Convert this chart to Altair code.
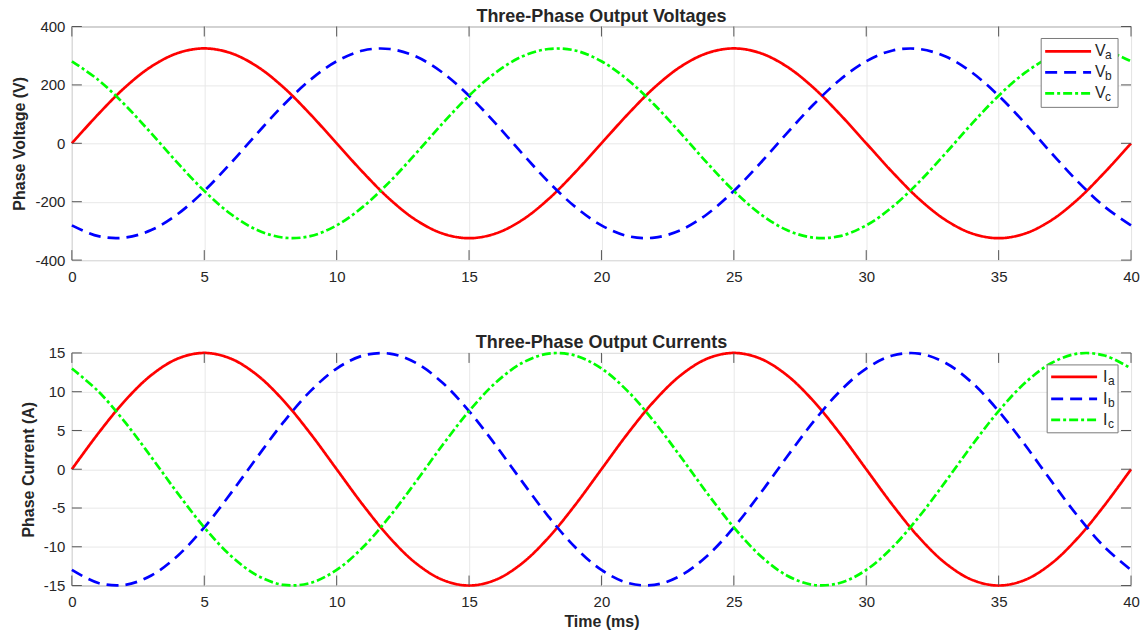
import altair as alt
import pandas as pd

# ---------------- data (1 ms steps) ----------------
time_ms = list(range(41))

va = [0, 100, 191, 263, 309, 325, 309, 263, 191, 100, 0, -100, -191, -263, -309, -325, -309, -263, -191, -100,
      0, 100, 191, 263, 309, 325, 309, 263, 191, 100, 0, -100, -191, -263, -309, -325, -309, -263, -191, -100, 0]
vb = [-281, -318, -323, -297, -242, -163, -68, 34, 132, 217, 281, 318, 323, 297, 242, 163, 68, -34, -132, -217,
      -281, -318, -323, -297, -242, -163, -68, 34, 132, 217, 281, 318, 323, 297, 242, 163, 68, -34, -132, -217, -281]
vc = [281, 217, 132, 34, -68, -163, -242, -297, -323, -318, -281, -217, -132, -34, 68, 163, 242, 297, 323, 318,
      281, 217, 132, 34, -68, -163, -242, -297, -323, -318, -281, -217, -132, -34, 68, 163, 242, 297, 323, 318, 281]

ia = [0, 4.64, 8.82, 12.14, 14.27, 15, 14.27, 12.14, 8.82, 4.64, 0, -4.64, -8.82, -12.14, -14.27, -15, -14.27, -12.14, -8.82, -4.64,
      0, 4.64, 8.82, 12.14, 14.27, 15, 14.27, 12.14, 8.82, 4.64, 0, -4.64, -8.82, -12.14, -14.27, -15, -14.27, -12.14, -8.82, -4.64, 0]
ib = [-12.99, -14.67, -14.92, -13.70, -11.15, -7.5, -3.12, 1.57, 6.10, 10.04, 12.99, 14.67, 14.92, 13.70, 11.15, 7.5, 3.12, -1.57, -6.10, -10.04,
      -12.99, -14.67, -14.92, -13.70, -11.15, -7.5, -3.12, 1.57, 6.10, 10.04, 12.99, 14.67, 14.92, 13.70, 11.15, 7.5, 3.12, -1.57, -6.10, -10.04, -12.99]
ic = [12.99, 10.04, 6.10, 1.57, -3.12, -7.5, -11.15, -13.70, -14.92, -14.67, -12.99, -10.04, -6.10, -1.57, 3.12, 7.5, 11.15, 13.70, 14.92, 14.67,
      12.99, 10.04, 6.10, 1.57, -3.12, -7.5, -11.15, -13.70, -14.92, -14.67, -12.99, -10.04, -6.10, -1.57, 3.12, 7.5, 11.15, 13.70, 14.92, 14.67, 12.99]

x_ticks = [0, 5, 10, 15, 20, 25, 30, 35, 40]
v_ticks = [-400, -200, 0, 200, 400]
i_ticks = [-15, -10, -5, 0, 5, 10, 15]

series_colors = ["#FF0000", "#0000FF", "#00FF00"]
series_dashes = [[1, 0], [12, 7], [9, 3, 3, 3]]

FONT = "Liberation Sans"
TXT = "#262626"
EDGE = "#7a7a7a"
W = 1061


def panel(values, names, mains, subs, y_domain, y_ticks, y_title, title, height,
          box, line_x, text_x, sub_dx, rows, x_title):
    df = pd.DataFrame({"t": time_ms})
    for n, v in zip(names, values):
        df[n] = v
    long = df.melt("t", var_name="series", value_name="val")

    xs = alt.Scale(domain=[0, 40], nice=False)
    ys = alt.Scale(domain=y_domain, nice=False)
    common = dict(grid=True, ticks=False, domain=False, labelFlush=False, labelOverlap=False,
                  labelExpr="'' + datum.value",
                  labelFont=FONT, labelFontSize=15, labelColor=TXT,
                  titleFont=FONT, titleFontSize=16, titleFontWeight="bold", titleColor=TXT,
                  gridColor="#e8e8e8", gridWidth=1)
    x_axis = alt.Axis(values=x_ticks, title=x_title, labelPadding=9, titlePadding=4, **common)
    y_axis = alt.Axis(values=y_ticks, title=y_title, labelPadding=7, titlePadding=7, **common)

    lines = alt.Chart(long).mark_line(strokeWidth=2.7, interpolate="catmull-rom").encode(
        x=alt.X("t:Q", scale=xs, axis=x_axis),
        y=alt.Y("val:Q", scale=ys, axis=y_axis),
        color=alt.Color("series:N", scale=alt.Scale(domain=names, range=series_colors), legend=None),
        strokeDash=alt.StrokeDash("series:N", scale=alt.Scale(domain=names, range=series_dashes), legend=None),
    )

    xt = pd.DataFrame({"t": x_ticks})
    yt = pd.DataFrame({"val": y_ticks})
    tick_style = dict(color="#555555", strokeWidth=1)
    ticks_top = alt.Chart(xt).mark_rule(**tick_style).encode(
        x=alt.X("t:Q", scale=xs, axis=x_axis), y=alt.value(0), y2=alt.value(10))
    ticks_bot = alt.Chart(xt).mark_rule(**tick_style).encode(
        x=alt.X("t:Q", scale=xs, axis=x_axis), y=alt.value(height), y2=alt.value(height - 10))
    ticks_left = alt.Chart(yt).mark_rule(**tick_style).encode(
        y=alt.Y("val:Q", scale=ys, axis=y_axis), x=alt.value(0), x2=alt.value(10))
    ticks_right = alt.Chart(yt).mark_rule(**tick_style).encode(
        y=alt.Y("val:Q", scale=ys, axis=y_axis), x=alt.value(W - 10), x2=alt.value(W))

    one = pd.DataFrame({"k": [0]})
    box_layer = alt.Chart(one).mark_rect(fill="white", stroke=EDGE, strokeWidth=1).encode(
        x=alt.value(box[0]), x2=alt.value(box[1]), y=alt.value(box[2]), y2=alt.value(box[3]))

    layers = [lines, ticks_top, ticks_bot, ticks_left, ticks_right, box_layer]
    for i in range(3):
        layers.append(alt.Chart(one).mark_rule(color=series_colors[i], strokeWidth=2.7,
                                               strokeDash=series_dashes[i]).encode(
            x=alt.value(line_x[0]), x2=alt.value(line_x[1]), y=alt.value(rows[i])))
        layers.append(alt.Chart(one).mark_text(text=mains[i], font=FONT, fontSize=16, color=TXT,
                                               align="left", baseline="alphabetic").encode(
            x=alt.value(text_x), y=alt.value(rows[i] + 5)))
        layers.append(alt.Chart(one).mark_text(text=subs[i], font=FONT, fontSize=12, color=TXT,
                                               align="left", baseline="alphabetic").encode(
            x=alt.value(text_x + sub_dx), y=alt.value(rows[i] + 8)))

    return alt.layer(*layers).properties(
        width=W, height=height,
        title=alt.TitleParams(title, font=FONT, fontSize=18, fontWeight="bold", color=TXT,
                              anchor="middle", offset=-6),
    )


top = panel([va, vb, vc], ["Va", "Vb", "Vc"], ["V", "V", "V"], ["a", "b", "c"],
            [-400, 400], v_ticks, "Phase Voltage (V)", "Three-Phase Output Voltages", 234,
            box=(971, 1048, 12, 81), line_x=(975, 1021), text_x=1025, sub_dx=10,
            rows=[25, 46, 67], x_title=None)
bottom = panel([ia, ib, ic], ["Ia", "Ib", "Ic"], ["I", "I", "I"], ["a", "b", "c"],
               [-15, 15], i_ticks, "Phase Current (A)", "Three-Phase Output Currents", 233,
               box=(977, 1048, 12, 80), line_x=(981, 1027), text_x=1033, sub_dx=5,
               rows=[24, 46, 67], x_title="Time (ms)")

chart = alt.vconcat(top, bottom, spacing=48).properties(
    padding={"left": 11, "top": 6, "right": 5, "bottom": 5},
    background="white",
).configure_view(
    stroke=EDGE, strokeWidth=1
).configure_title(
    fontSize=18, font=FONT, fontWeight="bold", color=TXT
)

chart.save("out.html", embed_options={"renderer": "svg", "actions": False})
